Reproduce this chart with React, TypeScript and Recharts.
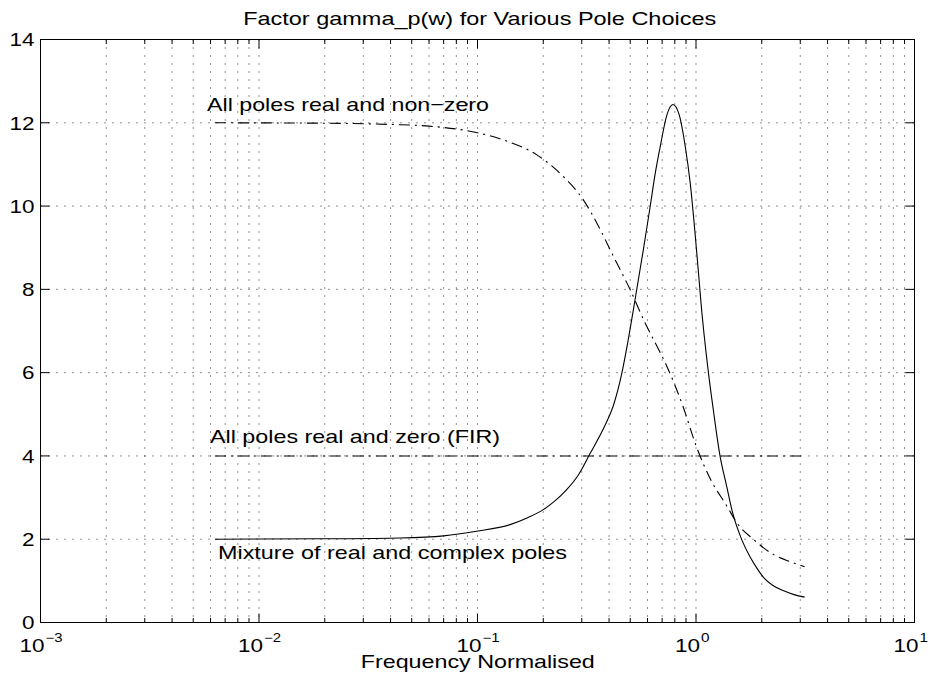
import { CartesianGrid, Line, LineChart, XAxis, YAxis } from 'recharts'

// frequency axis: decades and the minor steps inside each one
const decades = [0.001, 0.01, 0.1, 1, 10]
const decadeExps = ['−3', '−2', '−1', '0', '1']
const minorSteps = [1, 2, 3, 4, 5, 6, 7, 8, 9]
const xTicks = decades
  .slice(0, -1)
  .flatMap((d) => minorSteps.map((k) => k * d))
  .concat([10])
const yTicks = [0, 2, 4, 6, 8, 10, 12, 14]

// all poles real and non-zero
const realW = [
  0.00628, 0.02, 0.04, 0.06, 0.1, 0.131, 0.187, 0.247, 0.305, 0.352, 0.419, 0.5, 0.585, 0.65, 0.736,
  0.877, 1.0, 1.162, 1.387, 1.54, 1.837, 2.266, 2.7, 3.14,
]
const realGamma = [
  12.0, 11.99, 11.96, 11.92, 11.76, 11.59, 11.23, 10.71, 10.15, 9.59, 8.79, 7.99, 7.19, 6.72, 6.15,
  5.15, 4.25, 3.45, 2.79, 2.39, 1.99, 1.63, 1.46, 1.34,
]

// all poles real and zero (FIR)
const firW = [0.00628, 3.14]
const firGamma = [4, 4]

// mixture of real and complex poles
const mixW = [
  0.00628, 0.02, 0.0442, 0.07, 0.099, 0.141, 0.1685, 0.2, 0.2262, 0.256, 0.2884, 0.327, 0.383, 0.418,
  0.457, 0.49, 0.526, 0.574, 0.617, 0.651, 0.686, 0.736, 0.784, 0.838, 0.893, 0.941, 0.99, 1.033,
  1.051, 1.138, 1.2, 1.288, 1.382, 1.472, 1.619, 1.774, 1.902, 2.04, 2.25, 2.52, 2.809, 3.14,
]
const mixGamma = [
  2.0, 2.01, 2.03, 2.08, 2.19, 2.35, 2.51, 2.71, 2.92, 3.19, 3.53, 4.05, 4.73, 5.2, 5.97, 6.8, 7.75,
  8.95, 9.99, 10.79, 11.43, 12.19, 12.44, 12.19, 11.43, 10.55, 9.35, 8.23, 7.75, 6.03, 5.11, 4.0, 3.27,
  2.63, 1.99, 1.56, 1.3, 1.08, 0.89, 0.76, 0.67, 0.61,
]

const zip = (w: number[], g: number[]) => w.map((v, i) => ({ w: v, g: g[i] }))
const realData = zip(realW, realGamma)
const firData = zip(firW, firGamma)
const mixData = zip(mixW, mixGamma)

const font = "'Liberation Sans', Arial, Helvetica, sans-serif"
const dashDot = '11 5 2 5'

function XTick(props: any) {
  const { x, y, payload, side } = props
  const i = decades.indexOf(payload.value)
  const len = i >= 0 ? 9 : 4.5
  const dir = side === 'top' ? 1 : -1
  return (
    <g>
      <line x1={x} x2={x} y1={y} y2={y + dir * len} stroke="#000" />
      {side !== 'top' && i >= 0 && (
        <g fontFamily={font} fill="#000">
          <text x={x + 4} y={y + 29.5} textAnchor="end" fontSize={19} textLength={25} lengthAdjust="spacingAndGlyphs">
            10
          </text>
          <text
            x={x + 5}
            y={y + 19}
            fontSize={12}
            textLength={8.5 * decadeExps[i].length}
            lengthAdjust="spacingAndGlyphs"
          >
            {decadeExps[i]}
          </text>
        </g>
      )}
    </g>
  )
}

function YTick(props: any) {
  const { x, y, payload, side } = props
  const dir = side === 'right' ? -1 : 1
  const label = String(payload.value)
  return (
    <g>
      <line x1={x} x2={x + dir * 9} y1={y} y2={y} stroke="#000" />
      {side !== 'right' && (
        <text
          x={x - 6}
          y={y}
          dy="0.36em"
          textAnchor="end"
          fontSize={19}
          fontFamily={font}
          fill="#000"
          textLength={12.5 * label.length}
          lengthAdjust="spacingAndGlyphs"
        >
          {label}
        </text>
      )}
    </g>
  )
}

function Label({ x, y, w, anchor = 'start', children }: any) {
  return (
    <text
      x={x}
      y={y}
      textAnchor={anchor}
      fontSize={19}
      fontFamily={font}
      fill="#000"
      textLength={w}
      lengthAdjust="spacingAndGlyphs"
    >
      {children}
    </text>
  )
}

export default function App() {
  const xProps = {
    type: 'number' as const,
    dataKey: 'w',
    scale: 'log' as const,
    domain: [0.001, 10],
    ticks: xTicks,
    allowDataOverflow: true,
    height: 1,
    tickSize: 0,
    tickMargin: 0,
    interval: 0 as const,
    axisLine: { stroke: '#000' },
    tickLine: false,
  }
  const yProps = {
    type: 'number' as const,
    domain: [0, 14],
    ticks: yTicks,
    allowDataOverflow: true,
    width: 1,
    tickSize: 0,
    tickMargin: 0,
    interval: 0 as const,
    axisLine: { stroke: '#000' },
    tickLine: false,
  }
  return (
    <div style={{ position: 'absolute', left: 0, top: 0, width: 930, height: 681, background: '#fff' }}>
      <LineChart width={930} height={681} margin={{ top: 38.5, right: 14.5, bottom: 57.5, left: 39.5 }}>
        <CartesianGrid stroke="#222" strokeDasharray="1 7" />
        <XAxis {...xProps} tick={(p: any) => <XTick {...p} side="bottom" />} />
        <XAxis {...xProps} xAxisId="top" orientation="top" tick={(p: any) => <XTick {...p} side="top" />} />
        <YAxis {...yProps} tick={(p: any) => <YTick {...p} side="left" />} />
        <YAxis {...yProps} yAxisId="r" orientation="right" tick={(p: any) => <YTick {...p} side="right" />} />
        <Line
          data={realData}
          dataKey="g"
          type="monotone"
          stroke="#000"
          strokeWidth={1.1}
          strokeDasharray={dashDot}
          dot={false}
          isAnimationActive={false}
        />
        <Line
          data={firData}
          dataKey="g"
          type="linear"
          stroke="#000"
          strokeWidth={1.1}
          strokeDasharray={dashDot}
          dot={false}
          isAnimationActive={false}
        />
        <Line
          data={mixData}
          dataKey="g"
          type="monotone"
          stroke="#000"
          strokeWidth={1.1}
          dot={false}
          isAnimationActive={false}
        />
        <Label x={479.7} y={25} w={473} anchor="middle">
          Factor gamma_p(w) for Various Pole Choices
        </Label>
        <Label x={477.8} y={667.5} w={234} anchor="middle">
          Frequency Normalised
        </Label>
        <Label x={207} y={110.7} w={282}>
          All poles real and non−zero
        </Label>
        <Label x={210} y={443.3} w={290}>
          All poles real and zero (FIR)
        </Label>
        <Label x={218} y={559.3} w={349}>
          Mixture of real and complex poles
        </Label>
      </LineChart>
    </div>
  )
}
